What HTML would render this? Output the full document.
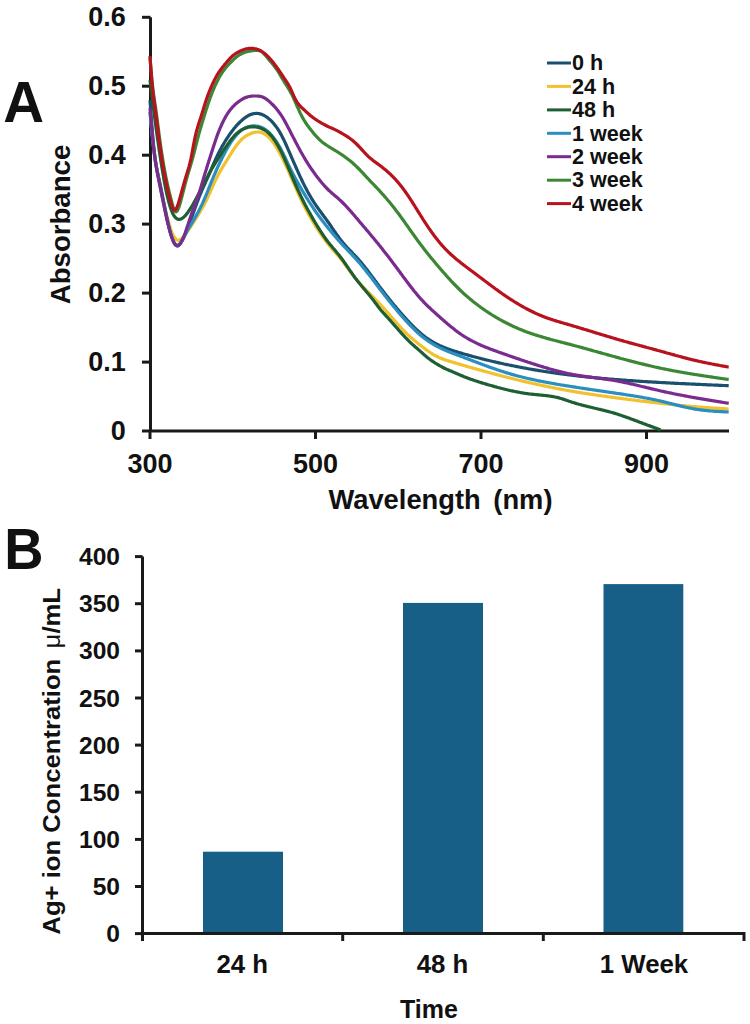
<!DOCTYPE html>
<html><head><meta charset="utf-8"><style>
html,body{margin:0;padding:0;background:#fff;width:750px;height:1024px;overflow:hidden}
svg{display:block}
#wrap{}
</style></head><body>
<div id="wrap"><svg width="750" height="1024" viewBox="0 0 750 1024">
<rect width="750" height="1024" fill="#fff"/>
<path d="M150.5,17.30000000000001 V431 H729" fill="none" stroke="#1a1a1a" stroke-width="3"/>
<line x1="142" y1="431.0" x2="150.5" y2="431.0" stroke="#1a1a1a" stroke-width="3"/>
<text x="125.7" y="439.9" text-anchor="end" style="font-family:'Liberation Sans',sans-serif;font-weight:bold;fill:#111;font-size:27px">0</text>
<line x1="142" y1="362.1" x2="150.5" y2="362.1" stroke="#1a1a1a" stroke-width="3"/>
<text x="125.7" y="370.9" text-anchor="end" style="font-family:'Liberation Sans',sans-serif;font-weight:bold;fill:#111;font-size:27px">0.1</text>
<line x1="142" y1="293.1" x2="150.5" y2="293.1" stroke="#1a1a1a" stroke-width="3"/>
<text x="125.7" y="302.0" text-anchor="end" style="font-family:'Liberation Sans',sans-serif;font-weight:bold;fill:#111;font-size:27px">0.2</text>
<line x1="142" y1="224.1" x2="150.5" y2="224.1" stroke="#1a1a1a" stroke-width="3"/>
<text x="125.7" y="233.0" text-anchor="end" style="font-family:'Liberation Sans',sans-serif;font-weight:bold;fill:#111;font-size:27px">0.3</text>
<line x1="142" y1="155.2" x2="150.5" y2="155.2" stroke="#1a1a1a" stroke-width="3"/>
<text x="125.7" y="164.1" text-anchor="end" style="font-family:'Liberation Sans',sans-serif;font-weight:bold;fill:#111;font-size:27px">0.4</text>
<line x1="142" y1="86.2" x2="150.5" y2="86.2" stroke="#1a1a1a" stroke-width="3"/>
<text x="125.7" y="95.2" text-anchor="end" style="font-family:'Liberation Sans',sans-serif;font-weight:bold;fill:#111;font-size:27px">0.5</text>
<line x1="142" y1="17.3" x2="150.5" y2="17.3" stroke="#1a1a1a" stroke-width="3"/>
<text x="125.7" y="26.2" text-anchor="end" style="font-family:'Liberation Sans',sans-serif;font-weight:bold;fill:#111;font-size:27px">0.6</text>
<line x1="150.0" y1="431" x2="150.0" y2="439" stroke="#1a1a1a" stroke-width="3"/>
<text x="150.0" y="473" text-anchor="middle" style="font-family:'Liberation Sans',sans-serif;font-weight:bold;fill:#111;font-size:27px">300</text>
<line x1="315.5" y1="431" x2="315.5" y2="439" stroke="#1a1a1a" stroke-width="3"/>
<text x="315.5" y="473" text-anchor="middle" style="font-family:'Liberation Sans',sans-serif;font-weight:bold;fill:#111;font-size:27px">500</text>
<line x1="481.0" y1="431" x2="481.0" y2="439" stroke="#1a1a1a" stroke-width="3"/>
<text x="481.0" y="473" text-anchor="middle" style="font-family:'Liberation Sans',sans-serif;font-weight:bold;fill:#111;font-size:27px">700</text>
<line x1="646.5" y1="431" x2="646.5" y2="439" stroke="#1a1a1a" stroke-width="3"/>
<text x="646.5" y="473" text-anchor="middle" style="font-family:'Liberation Sans',sans-serif;font-weight:bold;fill:#111;font-size:27px">900</text>
<text x="3.2" y="122" style="font-family:'Liberation Sans',sans-serif;font-weight:bold;fill:#111;font-size:56.5px">A</text>
<text transform="translate(69.5,224.5) rotate(-90)" text-anchor="middle" style="font-family:'Liberation Sans',sans-serif;font-weight:bold;fill:#111;font-size:27.6px">Absorbance</text>
<text x="328.5" y="508.5" style="font-family:'Liberation Sans',sans-serif;font-weight:bold;fill:#111;font-size:27.3px">Wavelength</text>
<text x="552.5" y="508.5" text-anchor="end" style="font-family:'Liberation Sans',sans-serif;font-weight:bold;fill:#111;font-size:27.3px">(nm)</text>
<path d="M150.0,112.1 L151.0,122.3 L152.0,132.1 L153.0,141.4 L154.0,149.7 L155.0,157.0 L156.0,163.3 L157.0,169.0 L158.0,174.2 L159.0,179.1 L160.0,184.1 L161.0,189.1 L162.0,194.0 L163.0,198.8 L164.0,203.5 L165.0,208.0 L166.0,212.3 L167.0,216.4 L168.0,220.2 L169.0,223.8 L170.0,227.1 L171.0,230.0 L172.0,232.6 L173.0,234.8 L174.0,236.7 L175.0,238.2 L176.0,239.3 L177.0,240.0 L178.0,240.3 L179.0,240.2 L180.0,239.8 L181.0,239.1 L182.0,238.2 L183.0,237.2 L184.0,236.0 L185.0,234.8 L186.0,233.5 L187.0,232.1 L188.0,230.7 L189.0,229.3 L190.0,227.8 L191.0,226.3 L192.0,224.7 L193.0,223.2 L194.0,221.6 L195.0,220.0 L196.0,218.4 L197.0,216.8 L198.0,215.2 L199.0,213.6 L200.0,211.9 L201.0,210.2 L202.0,208.5 L203.0,206.7 L204.0,204.9 L205.0,203.0 L206.0,201.0 L207.0,199.0 L208.0,196.9 L209.0,194.7 L210.0,192.5 L211.0,190.2 L212.0,188.0 L213.0,185.7 L214.0,183.5 L215.0,181.4 L216.0,179.2 L217.0,177.2 L218.0,175.3 L219.0,173.4 L220.0,171.6 L221.0,169.9 L222.0,168.2 L223.0,166.5 L224.0,164.9 L225.0,163.3 L226.0,161.6 L227.0,160.0 L228.0,158.4 L229.0,156.8 L230.0,155.2 L231.0,153.6 L232.0,152.0 L233.0,150.5 L234.0,148.9 L235.0,147.5 L236.0,146.1 L237.0,144.7 L238.0,143.4 L239.0,142.2 L240.0,141.1 L241.0,140.0 L242.0,139.0 L243.0,138.2 L244.0,137.4 L245.0,136.6 L246.0,136.0 L247.0,135.4 L248.0,134.8 L249.0,134.3 L250.0,133.9 L251.0,133.5 L252.0,133.1 L253.0,132.8 L254.0,132.5 L255.0,132.3 L256.0,132.1 L257.0,132.0 L258.0,132.0 L259.0,132.1 L260.0,132.2 L261.0,132.5 L262.0,132.8 L263.0,133.2 L264.0,133.7 L265.0,134.3 L266.0,134.9 L267.0,135.7 L268.0,136.5 L269.0,137.5 L270.0,138.5 L271.0,139.7 L272.0,140.9 L273.0,142.2 L274.0,143.6 L275.0,145.0 L276.0,146.6 L277.0,148.2 L278.0,149.9 L279.0,151.7 L280.0,153.5 L281.0,155.4 L282.0,157.4 L283.0,159.4 L284.0,161.5 L285.0,163.6 L286.0,165.8 L287.0,168.0 L288.0,170.2 L289.0,172.4 L290.0,174.7 L291.0,177.0 L292.0,179.3 L293.0,181.6 L294.0,183.9 L295.0,186.2 L296.0,188.4 L297.0,190.7 L298.0,192.9 L299.0,195.1 L300.0,197.3 L301.0,199.4 L302.0,201.5 L303.0,203.5 L304.0,205.5 L305.0,207.5 L306.0,209.4 L307.0,211.3 L308.0,213.1 L309.0,214.9 L310.0,216.7 L311.0,218.4 L312.0,220.2 L313.0,221.8 L314.0,223.5 L315.0,225.1 L316.0,226.8 L317.0,228.3 L318.0,229.9 L319.0,231.4 L320.0,232.9 L321.0,234.4 L322.0,235.8 L323.0,237.3 L324.0,238.6 L325.0,240.0 L326.0,241.3 L327.0,242.6 L328.0,243.9 L329.0,245.1 L330.0,246.3 L331.0,247.5 L332.0,248.7 L333.0,249.8 L334.0,251.0 L335.0,252.1 L336.0,253.3 L337.0,254.4 L338.0,255.6 L339.0,256.8 L340.0,258.0 L341.0,259.3 L342.0,260.5 L343.0,261.8 L344.0,263.1 L345.0,264.5 L346.0,265.8 L347.0,267.2 L348.0,268.5 L349.0,269.9 L350.0,271.2 L351.0,272.6 L352.0,273.9 L353.0,275.2 L354.0,276.5 L355.0,277.8 L356.0,279.0 L357.0,280.2 L358.0,281.4 L359.0,282.5 L360.0,283.6 L361.0,284.7 L362.0,285.8 L363.0,286.9 L364.0,287.9 L365.0,289.0 L366.0,290.0 L367.0,291.0 L368.0,292.0 L369.0,293.0 L370.0,294.0 L371.0,295.0 L372.0,296.0 L373.0,297.0 L374.0,298.0 L375.0,299.0 L376.0,300.1 L377.0,301.1 L378.0,302.1 L379.0,303.2 L380.0,304.2 L381.0,305.3 L382.0,306.4 L383.0,307.5 L384.0,308.5 L385.0,309.6 L386.0,310.8 L387.0,311.9 L388.0,313.0 L389.0,314.1 L390.0,315.3 L391.0,316.4 L392.0,317.6 L393.0,318.8 L394.0,319.9 L395.0,321.1 L396.0,322.2 L397.0,323.4 L398.0,324.5 L399.0,325.6 L400.0,326.7 L401.0,327.8 L402.0,328.9 L403.0,330.0 L404.0,331.0 L405.0,332.0 L406.0,333.0 L407.0,334.0 L408.0,334.9 L409.0,335.8 L410.0,336.7 L411.0,337.6 L412.0,338.5 L413.0,339.3 L414.0,340.2 L415.0,341.0 L416.0,341.8 L417.0,342.6 L418.0,343.4 L419.0,344.2 L420.0,345.0 L421.0,345.8 L422.0,346.6 L423.0,347.3 L424.0,348.1 L425.0,348.8 L426.0,349.6 L427.0,350.3 L428.0,351.0 L429.0,351.7 L430.0,352.4 L431.0,353.0 L432.0,353.7 L433.0,354.3 L434.0,354.9 L435.0,355.5 L436.0,356.0 L437.0,356.5 L438.0,357.0 L439.0,357.5 L440.0,357.9 L441.0,358.3 L442.0,358.7 L443.0,359.1 L444.0,359.5 L445.0,359.8 L446.0,360.1 L447.0,360.5 L448.0,360.8 L449.0,361.1 L450.0,361.4 L451.0,361.7 L452.0,362.0 L453.0,362.3 L454.0,362.6 L455.0,362.9 L456.0,363.2 L457.0,363.5 L458.0,363.8 L459.0,364.1 L460.0,364.4 L461.0,364.7 L462.0,364.9 L463.0,365.2 L464.0,365.5 L465.0,365.8 L466.0,366.1 L467.0,366.4 L468.0,366.7 L469.0,367.0 L470.0,367.2 L471.0,367.5 L472.0,367.8 L473.0,368.1 L474.0,368.4 L475.0,368.7 L476.0,368.9 L477.0,369.2 L478.0,369.5 L479.0,369.8 L480.0,370.1 L481.0,370.3 L482.0,370.6 L483.0,370.9 L484.0,371.2 L485.0,371.4 L486.0,371.7 L487.0,372.0 L488.0,372.3 L489.0,372.5 L490.0,372.8 L491.0,373.1 L492.0,373.3 L493.0,373.6 L494.0,373.9 L495.0,374.1 L496.0,374.4 L497.0,374.7 L498.0,374.9 L499.0,375.2 L500.0,375.4 L501.0,375.7 L502.0,376.0 L503.0,376.2 L504.0,376.5 L505.0,376.7 L506.0,377.0 L507.0,377.2 L508.0,377.5 L509.0,377.7 L510.0,378.0 L511.0,378.3 L512.0,378.5 L513.0,378.7 L514.0,379.0 L515.0,379.2 L516.0,379.5 L517.0,379.7 L518.0,380.0 L519.0,380.2 L520.0,380.5 L521.0,380.7 L522.0,380.9 L523.0,381.2 L524.0,381.4 L525.0,381.6 L526.0,381.9 L527.0,382.1 L528.0,382.3 L529.0,382.6 L530.0,382.8 L531.0,383.0 L532.0,383.2 L533.0,383.5 L534.0,383.7 L535.0,383.9 L536.0,384.1 L537.0,384.4 L538.0,384.6 L539.0,384.8 L540.0,385.0 L541.0,385.2 L542.0,385.4 L543.0,385.7 L544.0,385.9 L545.0,386.1 L546.0,386.3 L547.0,386.5 L548.0,386.7 L549.0,386.9 L550.0,387.1 L551.0,387.3 L552.0,387.5 L553.0,387.7 L554.0,387.9 L555.0,388.1 L556.0,388.3 L557.0,388.5 L558.0,388.7 L559.0,388.9 L560.0,389.1 L561.0,389.3 L562.0,389.5 L563.0,389.6 L564.0,389.8 L565.0,390.0 L566.0,390.2 L567.0,390.4 L568.0,390.5 L569.0,390.7 L570.0,390.9 L571.0,391.1 L572.0,391.2 L573.0,391.4 L574.0,391.6 L575.0,391.8 L576.0,391.9 L577.0,392.1 L578.0,392.3 L579.0,392.4 L580.0,392.6 L581.0,392.7 L582.0,392.9 L583.0,393.1 L584.0,393.2 L585.0,393.4 L586.0,393.5 L587.0,393.7 L588.0,393.8 L589.0,394.0 L590.0,394.1 L591.0,394.3 L592.0,394.4 L593.0,394.6 L594.0,394.7 L595.0,394.9 L596.0,395.0 L597.0,395.2 L598.0,395.3 L599.0,395.5 L600.0,395.6 L601.0,395.7 L602.0,395.9 L603.0,396.0 L604.0,396.2 L605.0,396.3 L606.0,396.4 L607.0,396.6 L608.0,396.7 L609.0,396.9 L610.0,397.0 L611.0,397.1 L612.0,397.3 L613.0,397.4 L614.0,397.5 L615.0,397.7 L616.0,397.8 L617.0,397.9 L618.0,398.1 L619.0,398.2 L620.0,398.3 L621.0,398.5 L622.0,398.6 L623.0,398.7 L624.0,398.8 L625.0,399.0 L626.0,399.1 L627.0,399.2 L628.0,399.4 L629.0,399.5 L630.0,399.6 L631.0,399.7 L632.0,399.9 L633.0,400.0 L634.0,400.1 L635.0,400.2 L636.0,400.4 L637.0,400.5 L638.0,400.6 L639.0,400.7 L640.0,400.9 L641.0,401.0 L642.0,401.1 L643.0,401.2 L644.0,401.3 L645.0,401.5 L646.0,401.6 L647.0,401.7 L648.0,401.8 L649.0,401.9 L650.0,402.1 L651.0,402.2 L652.0,402.3 L653.0,402.4 L654.0,402.5 L655.0,402.6 L656.0,402.8 L657.0,402.9 L658.0,403.0 L659.0,403.1 L660.0,403.2 L661.0,403.3 L662.0,403.4 L663.0,403.6 L664.0,403.7 L665.0,403.8 L666.0,403.9 L667.0,404.0 L668.0,404.1 L669.0,404.2 L670.0,404.3 L671.0,404.4 L672.0,404.5 L673.0,404.6 L674.0,404.7 L675.0,404.9 L676.0,405.0 L677.0,405.1 L678.0,405.2 L679.0,405.3 L680.0,405.4 L681.0,405.5 L682.0,405.6 L683.0,405.7 L684.0,405.7 L685.0,405.8 L686.0,405.9 L687.0,406.0 L688.0,406.1 L689.0,406.2 L690.0,406.3 L691.0,406.4 L692.0,406.5 L693.0,406.6 L694.0,406.6 L695.0,406.7 L696.0,406.8 L697.0,406.9 L698.0,407.0 L699.0,407.0 L700.0,407.1 L701.0,407.2 L702.0,407.3 L703.0,407.3 L704.0,407.4 L705.0,407.5 L706.0,407.6 L707.0,407.6 L708.0,407.7 L709.0,407.8 L710.0,407.8 L711.0,407.9 L712.0,408.0 L713.0,408.0 L714.0,408.1 L715.0,408.2 L716.0,408.2 L717.0,408.3 L718.0,408.3 L719.0,408.4 L720.0,408.5 L721.0,408.5 L722.0,408.6 L723.0,408.7 L724.0,408.7 L725.0,408.8 L726.0,408.8 L727.0,408.9 L728.0,409.0 L728.7,409.0" fill="none" stroke="#f2c12e" stroke-width="3.2" stroke-linejoin="round" stroke-linecap="butt"/>
<path d="M150.0,100.3 L151.0,113.9 L152.0,127.1 L153.0,139.1 L154.0,149.5 L155.0,157.9 L156.0,164.6 L157.0,170.0 L158.0,174.8 L159.0,179.3 L160.0,183.9 L161.0,188.7 L162.0,193.6 L163.0,198.6 L164.0,203.6 L165.0,208.6 L166.0,213.5 L167.0,218.3 L168.0,222.9 L169.0,227.2 L170.0,231.2 L171.0,234.7 L172.0,237.7 L173.0,240.2 L174.0,242.3 L175.0,243.8 L176.0,244.8 L177.0,245.2 L178.0,245.2 L179.0,244.7 L180.0,243.8 L181.0,242.5 L182.0,240.9 L183.0,239.1 L184.0,237.0 L185.0,234.8 L186.0,232.5 L187.0,230.0 L188.0,227.4 L189.0,224.8 L190.0,222.1 L191.0,219.3 L192.0,216.6 L193.0,213.8 L194.0,211.0 L195.0,208.2 L196.0,205.5 L197.0,202.8 L198.0,200.1 L199.0,197.5 L200.0,195.0 L201.0,192.6 L202.0,190.2 L203.0,187.9 L204.0,185.7 L205.0,183.5 L206.0,181.2 L207.0,179.0 L208.0,176.8 L209.0,174.5 L210.0,172.2 L211.0,169.8 L212.0,167.5 L213.0,165.2 L214.0,162.9 L215.0,160.7 L216.0,158.5 L217.0,156.4 L218.0,154.3 L219.0,152.3 L220.0,150.3 L221.0,148.5 L222.0,146.6 L223.0,144.9 L224.0,143.2 L225.0,141.5 L226.0,139.9 L227.0,138.3 L228.0,136.8 L229.0,135.3 L230.0,133.9 L231.0,132.5 L232.0,131.2 L233.0,129.9 L234.0,128.6 L235.0,127.4 L236.0,126.2 L237.0,125.1 L238.0,124.0 L239.0,123.0 L240.0,122.0 L241.0,121.1 L242.0,120.2 L243.0,119.3 L244.0,118.5 L245.0,117.7 L246.0,117.1 L247.0,116.4 L248.0,115.8 L249.0,115.3 L250.0,114.8 L251.0,114.4 L252.0,114.1 L253.0,113.8 L254.0,113.6 L255.0,113.5 L256.0,113.4 L257.0,113.4 L258.0,113.5 L259.0,113.6 L260.0,113.9 L261.0,114.1 L262.0,114.5 L263.0,114.9 L264.0,115.4 L265.0,116.0 L266.0,116.6 L267.0,117.3 L268.0,118.1 L269.0,118.9 L270.0,119.7 L271.0,120.7 L272.0,121.7 L273.0,122.8 L274.0,123.9 L275.0,125.2 L276.0,126.5 L277.0,127.9 L278.0,129.3 L279.0,130.9 L280.0,132.6 L281.0,134.4 L282.0,136.2 L283.0,138.2 L284.0,140.2 L285.0,142.4 L286.0,144.5 L287.0,146.8 L288.0,149.1 L289.0,151.4 L290.0,153.7 L291.0,156.0 L292.0,158.3 L293.0,160.6 L294.0,162.9 L295.0,165.2 L296.0,167.5 L297.0,169.7 L298.0,171.9 L299.0,174.1 L300.0,176.3 L301.0,178.4 L302.0,180.5 L303.0,182.6 L304.0,184.6 L305.0,186.6 L306.0,188.5 L307.0,190.4 L308.0,192.3 L309.0,194.1 L310.0,195.8 L311.0,197.5 L312.0,199.2 L313.0,200.8 L314.0,202.4 L315.0,203.9 L316.0,205.4 L317.0,206.8 L318.0,208.2 L319.0,209.6 L320.0,211.0 L321.0,212.3 L322.0,213.7 L323.0,215.0 L324.0,216.4 L325.0,217.7 L326.0,219.1 L327.0,220.5 L328.0,221.9 L329.0,223.3 L330.0,224.7 L331.0,226.2 L332.0,227.7 L333.0,229.1 L334.0,230.6 L335.0,232.0 L336.0,233.5 L337.0,234.9 L338.0,236.3 L339.0,237.7 L340.0,239.0 L341.0,240.3 L342.0,241.5 L343.0,242.7 L344.0,243.9 L345.0,245.0 L346.0,246.2 L347.0,247.3 L348.0,248.3 L349.0,249.4 L350.0,250.5 L351.0,251.5 L352.0,252.5 L353.0,253.6 L354.0,254.6 L355.0,255.7 L356.0,256.7 L357.0,257.8 L358.0,258.9 L359.0,260.0 L360.0,261.2 L361.0,262.3 L362.0,263.5 L363.0,264.8 L364.0,266.0 L365.0,267.3 L366.0,268.5 L367.0,269.8 L368.0,271.1 L369.0,272.4 L370.0,273.8 L371.0,275.1 L372.0,276.5 L373.0,277.8 L374.0,279.1 L375.0,280.5 L376.0,281.8 L377.0,283.2 L378.0,284.5 L379.0,285.9 L380.0,287.2 L381.0,288.5 L382.0,289.8 L383.0,291.1 L384.0,292.4 L385.0,293.7 L386.0,295.0 L387.0,296.2 L388.0,297.5 L389.0,298.8 L390.0,300.0 L391.0,301.2 L392.0,302.5 L393.0,303.7 L394.0,304.9 L395.0,306.1 L396.0,307.3 L397.0,308.5 L398.0,309.7 L399.0,310.8 L400.0,312.0 L401.0,313.2 L402.0,314.3 L403.0,315.4 L404.0,316.6 L405.0,317.7 L406.0,318.8 L407.0,319.9 L408.0,321.0 L409.0,322.0 L410.0,323.1 L411.0,324.1 L412.0,325.2 L413.0,326.2 L414.0,327.2 L415.0,328.1 L416.0,329.1 L417.0,330.0 L418.0,330.9 L419.0,331.8 L420.0,332.7 L421.0,333.6 L422.0,334.4 L423.0,335.2 L424.0,336.0 L425.0,336.8 L426.0,337.5 L427.0,338.2 L428.0,338.9 L429.0,339.6 L430.0,340.2 L431.0,340.8 L432.0,341.5 L433.0,342.0 L434.0,342.6 L435.0,343.2 L436.0,343.7 L437.0,344.2 L438.0,344.7 L439.0,345.2 L440.0,345.7 L441.0,346.1 L442.0,346.5 L443.0,347.0 L444.0,347.4 L445.0,347.8 L446.0,348.2 L447.0,348.6 L448.0,348.9 L449.0,349.3 L450.0,349.6 L451.0,350.0 L452.0,350.3 L453.0,350.6 L454.0,351.0 L455.0,351.3 L456.0,351.6 L457.0,351.9 L458.0,352.2 L459.0,352.5 L460.0,352.8 L461.0,353.1 L462.0,353.4 L463.0,353.7 L464.0,354.0 L465.0,354.3 L466.0,354.5 L467.0,354.8 L468.0,355.1 L469.0,355.4 L470.0,355.7 L471.0,355.9 L472.0,356.2 L473.0,356.5 L474.0,356.7 L475.0,357.0 L476.0,357.3 L477.0,357.5 L478.0,357.8 L479.0,358.0 L480.0,358.3 L481.0,358.6 L482.0,358.8 L483.0,359.1 L484.0,359.3 L485.0,359.6 L486.0,359.8 L487.0,360.1 L488.0,360.3 L489.0,360.5 L490.0,360.8 L491.0,361.0 L492.0,361.3 L493.0,361.5 L494.0,361.7 L495.0,361.9 L496.0,362.2 L497.0,362.4 L498.0,362.6 L499.0,362.9 L500.0,363.1 L501.0,363.3 L502.0,363.5 L503.0,363.7 L504.0,364.0 L505.0,364.2 L506.0,364.4 L507.0,364.6 L508.0,364.8 L509.0,365.0 L510.0,365.2 L511.0,365.4 L512.0,365.6 L513.0,365.8 L514.0,366.0 L515.0,366.2 L516.0,366.4 L517.0,366.6 L518.0,366.8 L519.0,367.0 L520.0,367.2 L521.0,367.4 L522.0,367.6 L523.0,367.8 L524.0,368.0 L525.0,368.1 L526.0,368.3 L527.0,368.5 L528.0,368.7 L529.0,368.9 L530.0,369.0 L531.0,369.2 L532.0,369.4 L533.0,369.6 L534.0,369.7 L535.0,369.9 L536.0,370.1 L537.0,370.2 L538.0,370.4 L539.0,370.6 L540.0,370.7 L541.0,370.9 L542.0,371.0 L543.0,371.2 L544.0,371.4 L545.0,371.5 L546.0,371.7 L547.0,371.8 L548.0,372.0 L549.0,372.1 L550.0,372.3 L551.0,372.4 L552.0,372.6 L553.0,372.7 L554.0,372.9 L555.0,373.0 L556.0,373.2 L557.0,373.3 L558.0,373.4 L559.0,373.6 L560.0,373.7 L561.0,373.8 L562.0,374.0 L563.0,374.1 L564.0,374.2 L565.0,374.4 L566.0,374.5 L567.0,374.6 L568.0,374.8 L569.0,374.9 L570.0,375.0 L571.0,375.1 L572.0,375.2 L573.0,375.4 L574.0,375.5 L575.0,375.6 L576.0,375.7 L577.0,375.8 L578.0,375.9 L579.0,376.1 L580.0,376.2 L581.0,376.3 L582.0,376.4 L583.0,376.5 L584.0,376.6 L585.0,376.7 L586.0,376.8 L587.0,376.9 L588.0,377.0 L589.0,377.1 L590.0,377.2 L591.0,377.3 L592.0,377.4 L593.0,377.5 L594.0,377.6 L595.0,377.7 L596.0,377.8 L597.0,377.9 L598.0,378.0 L599.0,378.1 L600.0,378.2 L601.0,378.3 L602.0,378.4 L603.0,378.5 L604.0,378.6 L605.0,378.6 L606.0,378.7 L607.0,378.8 L608.0,378.9 L609.0,379.0 L610.0,379.1 L611.0,379.2 L612.0,379.2 L613.0,379.3 L614.0,379.4 L615.0,379.5 L616.0,379.6 L617.0,379.6 L618.0,379.7 L619.0,379.8 L620.0,379.9 L621.0,379.9 L622.0,380.0 L623.0,380.1 L624.0,380.2 L625.0,380.2 L626.0,380.3 L627.0,380.4 L628.0,380.5 L629.0,380.5 L630.0,380.6 L631.0,380.7 L632.0,380.7 L633.0,380.8 L634.0,380.9 L635.0,380.9 L636.0,381.0 L637.0,381.1 L638.0,381.1 L639.0,381.2 L640.0,381.3 L641.0,381.3 L642.0,381.4 L643.0,381.5 L644.0,381.5 L645.0,381.6 L646.0,381.6 L647.0,381.7 L648.0,381.8 L649.0,381.8 L650.0,381.9 L651.0,381.9 L652.0,382.0 L653.0,382.1 L654.0,382.1 L655.0,382.2 L656.0,382.2 L657.0,382.3 L658.0,382.3 L659.0,382.4 L660.0,382.5 L661.0,382.5 L662.0,382.6 L663.0,382.6 L664.0,382.7 L665.0,382.7 L666.0,382.8 L667.0,382.8 L668.0,382.9 L669.0,382.9 L670.0,383.0 L671.0,383.1 L672.0,383.1 L673.0,383.2 L674.0,383.2 L675.0,383.3 L676.0,383.3 L677.0,383.4 L678.0,383.4 L679.0,383.5 L680.0,383.5 L681.0,383.6 L682.0,383.6 L683.0,383.7 L684.0,383.7 L685.0,383.7 L686.0,383.8 L687.0,383.8 L688.0,383.9 L689.0,383.9 L690.0,384.0 L691.0,384.0 L692.0,384.1 L693.0,384.1 L694.0,384.2 L695.0,384.2 L696.0,384.3 L697.0,384.3 L698.0,384.4 L699.0,384.4 L700.0,384.4 L701.0,384.5 L702.0,384.5 L703.0,384.6 L704.0,384.6 L705.0,384.7 L706.0,384.7 L707.0,384.8 L708.0,384.8 L709.0,384.8 L710.0,384.9 L711.0,384.9 L712.0,385.0 L713.0,385.0 L714.0,385.1 L715.0,385.1 L716.0,385.2 L717.0,385.2 L718.0,385.2 L719.0,385.3 L720.0,385.3 L721.0,385.4 L722.0,385.4 L723.0,385.5 L724.0,385.5 L725.0,385.5 L726.0,385.6 L727.0,385.6 L728.0,385.7 L728.7,385.7" fill="none" stroke="#1b4f6e" stroke-width="3.2" stroke-linejoin="round" stroke-linecap="butt"/>
<path d="M150.0,112.2 L151.0,122.8 L152.0,133.1 L153.0,142.7 L154.0,151.3 L155.0,158.7 L156.0,165.0 L157.0,170.7 L158.0,175.9 L159.0,181.0 L160.0,186.0 L161.0,191.0 L162.0,196.0 L163.0,200.9 L164.0,205.7 L165.0,210.5 L166.0,215.1 L167.0,219.6 L168.0,223.9 L169.0,227.9 L170.0,231.6 L171.0,235.0 L172.0,238.0 L173.0,240.7 L174.0,242.8 L175.0,244.4 L176.0,245.4 L177.0,245.9 L178.0,245.7 L179.0,245.0 L180.0,243.9 L181.0,242.5 L182.0,240.8 L183.0,238.9 L184.0,237.0 L185.0,235.0 L186.0,233.2 L187.0,231.3 L188.0,229.5 L189.0,227.8 L190.0,226.1 L191.0,224.4 L192.0,222.7 L193.0,221.1 L194.0,219.4 L195.0,217.7 L196.0,215.9 L197.0,214.1 L198.0,212.3 L199.0,210.4 L200.0,208.4 L201.0,206.4 L202.0,204.4 L203.0,202.2 L204.0,200.0 L205.0,197.7 L206.0,195.3 L207.0,192.9 L208.0,190.4 L209.0,187.9 L210.0,185.4 L211.0,182.9 L212.0,180.4 L213.0,178.0 L214.0,175.6 L215.0,173.3 L216.0,171.0 L217.0,168.7 L218.0,166.5 L219.0,164.4 L220.0,162.3 L221.0,160.2 L222.0,158.2 L223.0,156.2 L224.0,154.3 L225.0,152.4 L226.0,150.5 L227.0,148.8 L228.0,147.0 L229.0,145.4 L230.0,143.7 L231.0,142.2 L232.0,140.7 L233.0,139.3 L234.0,138.0 L235.0,136.7 L236.0,135.5 L237.0,134.4 L238.0,133.4 L239.0,132.4 L240.0,131.5 L241.0,130.7 L242.0,130.0 L243.0,129.3 L244.0,128.7 L245.0,128.1 L246.0,127.6 L247.0,127.2 L248.0,126.8 L249.0,126.5 L250.0,126.3 L251.0,126.1 L252.0,126.0 L253.0,125.9 L254.0,125.9 L255.0,125.9 L256.0,126.0 L257.0,126.1 L258.0,126.3 L259.0,126.6 L260.0,126.9 L261.0,127.3 L262.0,127.7 L263.0,128.2 L264.0,128.7 L265.0,129.3 L266.0,130.0 L267.0,130.8 L268.0,131.6 L269.0,132.5 L270.0,133.5 L271.0,134.6 L272.0,135.7 L273.0,136.9 L274.0,138.2 L275.0,139.6 L276.0,141.0 L277.0,142.6 L278.0,144.2 L279.0,145.9 L280.0,147.6 L281.0,149.4 L282.0,151.4 L283.0,153.3 L284.0,155.4 L285.0,157.4 L286.0,159.5 L287.0,161.6 L288.0,163.8 L289.0,165.9 L290.0,167.9 L291.0,170.0 L292.0,172.0 L293.0,173.9 L294.0,175.8 L295.0,177.7 L296.0,179.5 L297.0,181.4 L298.0,183.1 L299.0,184.9 L300.0,186.6 L301.0,188.3 L302.0,190.1 L303.0,191.8 L304.0,193.4 L305.0,195.1 L306.0,196.8 L307.0,198.4 L308.0,200.0 L309.0,201.6 L310.0,203.2 L311.0,204.7 L312.0,206.2 L313.0,207.7 L314.0,209.2 L315.0,210.7 L316.0,212.1 L317.0,213.5 L318.0,214.9 L319.0,216.3 L320.0,217.6 L321.0,218.9 L322.0,220.3 L323.0,221.6 L324.0,222.8 L325.0,224.1 L326.0,225.4 L327.0,226.6 L328.0,227.9 L329.0,229.1 L330.0,230.3 L331.0,231.6 L332.0,232.8 L333.0,234.0 L334.0,235.1 L335.0,236.3 L336.0,237.5 L337.0,238.6 L338.0,239.8 L339.0,240.9 L340.0,242.0 L341.0,243.1 L342.0,244.2 L343.0,245.3 L344.0,246.3 L345.0,247.4 L346.0,248.4 L347.0,249.5 L348.0,250.5 L349.0,251.6 L350.0,252.6 L351.0,253.7 L352.0,254.7 L353.0,255.8 L354.0,256.9 L355.0,258.0 L356.0,259.1 L357.0,260.2 L358.0,261.3 L359.0,262.4 L360.0,263.6 L361.0,264.8 L362.0,266.0 L363.0,267.2 L364.0,268.4 L365.0,269.6 L366.0,270.9 L367.0,272.2 L368.0,273.5 L369.0,274.7 L370.0,276.0 L371.0,277.3 L372.0,278.6 L373.0,280.0 L374.0,281.3 L375.0,282.6 L376.0,283.9 L377.0,285.2 L378.0,286.6 L379.0,287.9 L380.0,289.2 L381.0,290.5 L382.0,291.8 L383.0,293.1 L384.0,294.4 L385.0,295.7 L386.0,296.9 L387.0,298.2 L388.0,299.5 L389.0,300.7 L390.0,302.0 L391.0,303.2 L392.0,304.5 L393.0,305.7 L394.0,306.9 L395.0,308.1 L396.0,309.3 L397.0,310.5 L398.0,311.7 L399.0,312.9 L400.0,314.1 L401.0,315.2 L402.0,316.4 L403.0,317.5 L404.0,318.6 L405.0,319.8 L406.0,320.9 L407.0,321.9 L408.0,323.0 L409.0,324.1 L410.0,325.1 L411.0,326.2 L412.0,327.2 L413.0,328.2 L414.0,329.2 L415.0,330.2 L416.0,331.1 L417.0,332.0 L418.0,333.0 L419.0,333.8 L420.0,334.7 L421.0,335.6 L422.0,336.4 L423.0,337.2 L424.0,338.0 L425.0,338.8 L426.0,339.5 L427.0,340.2 L428.0,340.9 L429.0,341.6 L430.0,342.2 L431.0,342.9 L432.0,343.5 L433.0,344.1 L434.0,344.7 L435.0,345.3 L436.0,345.8 L437.0,346.3 L438.0,346.9 L439.0,347.4 L440.0,347.9 L441.0,348.3 L442.0,348.8 L443.0,349.3 L444.0,349.7 L445.0,350.1 L446.0,350.6 L447.0,351.0 L448.0,351.4 L449.0,351.8 L450.0,352.2 L451.0,352.6 L452.0,353.0 L453.0,353.4 L454.0,353.8 L455.0,354.1 L456.0,354.5 L457.0,354.9 L458.0,355.3 L459.0,355.6 L460.0,356.0 L461.0,356.4 L462.0,356.7 L463.0,357.1 L464.0,357.5 L465.0,357.9 L466.0,358.3 L467.0,358.6 L468.0,359.0 L469.0,359.4 L470.0,359.8 L471.0,360.1 L472.0,360.5 L473.0,360.9 L474.0,361.3 L475.0,361.7 L476.0,362.0 L477.0,362.4 L478.0,362.8 L479.0,363.2 L480.0,363.5 L481.0,363.9 L482.0,364.3 L483.0,364.7 L484.0,365.0 L485.0,365.4 L486.0,365.8 L487.0,366.1 L488.0,366.5 L489.0,366.9 L490.0,367.2 L491.0,367.6 L492.0,367.9 L493.0,368.3 L494.0,368.6 L495.0,369.0 L496.0,369.3 L497.0,369.7 L498.0,370.0 L499.0,370.3 L500.0,370.7 L501.0,371.0 L502.0,371.3 L503.0,371.6 L504.0,372.0 L505.0,372.3 L506.0,372.6 L507.0,372.9 L508.0,373.2 L509.0,373.5 L510.0,373.8 L511.0,374.1 L512.0,374.4 L513.0,374.7 L514.0,374.9 L515.0,375.2 L516.0,375.5 L517.0,375.8 L518.0,376.0 L519.0,376.3 L520.0,376.5 L521.0,376.8 L522.0,377.0 L523.0,377.3 L524.0,377.5 L525.0,377.8 L526.0,378.0 L527.0,378.3 L528.0,378.5 L529.0,378.7 L530.0,378.9 L531.0,379.2 L532.0,379.4 L533.0,379.6 L534.0,379.8 L535.0,380.0 L536.0,380.2 L537.0,380.5 L538.0,380.7 L539.0,380.9 L540.0,381.1 L541.0,381.3 L542.0,381.5 L543.0,381.7 L544.0,381.8 L545.0,382.0 L546.0,382.2 L547.0,382.4 L548.0,382.6 L549.0,382.8 L550.0,383.0 L551.0,383.1 L552.0,383.3 L553.0,383.5 L554.0,383.7 L555.0,383.8 L556.0,384.0 L557.0,384.2 L558.0,384.4 L559.0,384.5 L560.0,384.7 L561.0,384.9 L562.0,385.0 L563.0,385.2 L564.0,385.3 L565.0,385.5 L566.0,385.7 L567.0,385.8 L568.0,386.0 L569.0,386.1 L570.0,386.3 L571.0,386.5 L572.0,386.6 L573.0,386.8 L574.0,386.9 L575.0,387.1 L576.0,387.2 L577.0,387.4 L578.0,387.5 L579.0,387.7 L580.0,387.9 L581.0,388.0 L582.0,388.2 L583.0,388.3 L584.0,388.5 L585.0,388.6 L586.0,388.8 L587.0,388.9 L588.0,389.1 L589.0,389.2 L590.0,389.4 L591.0,389.5 L592.0,389.7 L593.0,389.8 L594.0,390.0 L595.0,390.1 L596.0,390.3 L597.0,390.4 L598.0,390.6 L599.0,390.7 L600.0,390.8 L601.0,391.0 L602.0,391.1 L603.0,391.3 L604.0,391.4 L605.0,391.6 L606.0,391.7 L607.0,391.9 L608.0,392.0 L609.0,392.2 L610.0,392.3 L611.0,392.5 L612.0,392.6 L613.0,392.8 L614.0,392.9 L615.0,393.1 L616.0,393.2 L617.0,393.4 L618.0,393.5 L619.0,393.6 L620.0,393.8 L621.0,393.9 L622.0,394.1 L623.0,394.2 L624.0,394.4 L625.0,394.5 L626.0,394.7 L627.0,394.9 L628.0,395.0 L629.0,395.2 L630.0,395.3 L631.0,395.5 L632.0,395.6 L633.0,395.8 L634.0,396.0 L635.0,396.1 L636.0,396.3 L637.0,396.5 L638.0,396.6 L639.0,396.8 L640.0,397.0 L641.0,397.1 L642.0,397.3 L643.0,397.5 L644.0,397.7 L645.0,397.9 L646.0,398.0 L647.0,398.2 L648.0,398.4 L649.0,398.6 L650.0,398.8 L651.0,399.0 L652.0,399.2 L653.0,399.4 L654.0,399.6 L655.0,399.8 L656.0,400.0 L657.0,400.3 L658.0,400.5 L659.0,400.7 L660.0,400.9 L661.0,401.2 L662.0,401.4 L663.0,401.6 L664.0,401.9 L665.0,402.1 L666.0,402.4 L667.0,402.6 L668.0,402.9 L669.0,403.1 L670.0,403.4 L671.0,403.6 L672.0,403.9 L673.0,404.1 L674.0,404.4 L675.0,404.6 L676.0,404.9 L677.0,405.1 L678.0,405.4 L679.0,405.6 L680.0,405.9 L681.0,406.1 L682.0,406.4 L683.0,406.6 L684.0,406.8 L685.0,407.1 L686.0,407.3 L687.0,407.5 L688.0,407.7 L689.0,407.9 L690.0,408.1 L691.0,408.3 L692.0,408.5 L693.0,408.7 L694.0,408.9 L695.0,409.1 L696.0,409.2 L697.0,409.4 L698.0,409.5 L699.0,409.7 L700.0,409.8 L701.0,409.9 L702.0,410.1 L703.0,410.2 L704.0,410.3 L705.0,410.4 L706.0,410.5 L707.0,410.6 L708.0,410.7 L709.0,410.8 L710.0,410.9 L711.0,411.0 L712.0,411.0 L713.0,411.1 L714.0,411.2 L715.0,411.3 L716.0,411.3 L717.0,411.4 L718.0,411.5 L719.0,411.5 L720.0,411.6 L721.0,411.6 L722.0,411.7 L723.0,411.7 L724.0,411.8 L725.0,411.8 L726.0,411.9 L727.0,411.9 L728.0,412.0 L728.7,412.0" fill="none" stroke="#2a8fc0" stroke-width="3.2" stroke-linejoin="round" stroke-linecap="butt"/>
<path d="M150.0,80.0 L151.0,88.2 L152.0,96.3 L153.0,104.4 L154.0,112.3 L155.0,120.0 L156.0,127.5 L157.0,134.7 L158.0,141.8 L159.0,148.7 L160.0,155.3 L161.0,161.8 L162.0,168.1 L163.0,174.1 L164.0,179.8 L165.0,185.1 L166.0,190.1 L167.0,194.8 L168.0,199.0 L169.0,202.8 L170.0,206.2 L171.0,209.2 L172.0,211.8 L173.0,214.0 L174.0,215.7 L175.0,217.1 L176.0,218.1 L177.0,218.8 L178.0,219.3 L179.0,219.4 L180.0,219.3 L181.0,219.0 L182.0,218.5 L183.0,217.8 L184.0,216.9 L185.0,215.9 L186.0,214.8 L187.0,213.5 L188.0,212.2 L189.0,210.7 L190.0,209.2 L191.0,207.6 L192.0,206.0 L193.0,204.3 L194.0,202.5 L195.0,200.7 L196.0,198.9 L197.0,197.0 L198.0,195.1 L199.0,193.2 L200.0,191.2 L201.0,189.2 L202.0,187.3 L203.0,185.3 L204.0,183.3 L205.0,181.4 L206.0,179.5 L207.0,177.5 L208.0,175.7 L209.0,173.8 L210.0,172.0 L211.0,170.2 L212.0,168.5 L213.0,166.8 L214.0,165.2 L215.0,163.6 L216.0,162.0 L217.0,160.4 L218.0,158.8 L219.0,157.3 L220.0,155.8 L221.0,154.3 L222.0,152.7 L223.0,151.2 L224.0,149.7 L225.0,148.2 L226.0,146.8 L227.0,145.3 L228.0,143.9 L229.0,142.5 L230.0,141.1 L231.0,139.8 L232.0,138.6 L233.0,137.4 L234.0,136.2 L235.0,135.2 L236.0,134.2 L237.0,133.2 L238.0,132.4 L239.0,131.6 L240.0,130.9 L241.0,130.2 L242.0,129.6 L243.0,129.1 L244.0,128.6 L245.0,128.2 L246.0,127.9 L247.0,127.6 L248.0,127.3 L249.0,127.1 L250.0,127.0 L251.0,126.8 L252.0,126.8 L253.0,126.8 L254.0,126.8 L255.0,126.9 L256.0,127.0 L257.0,127.2 L258.0,127.4 L259.0,127.6 L260.0,127.9 L261.0,128.3 L262.0,128.7 L263.0,129.2 L264.0,129.7 L265.0,130.3 L266.0,131.0 L267.0,131.7 L268.0,132.6 L269.0,133.5 L270.0,134.5 L271.0,135.6 L272.0,136.8 L273.0,138.1 L274.0,139.5 L275.0,140.9 L276.0,142.4 L277.0,144.1 L278.0,145.8 L279.0,147.6 L280.0,149.4 L281.0,151.4 L282.0,153.4 L283.0,155.6 L284.0,157.7 L285.0,160.0 L286.0,162.3 L287.0,164.6 L288.0,166.9 L289.0,169.3 L290.0,171.6 L291.0,174.0 L292.0,176.3 L293.0,178.7 L294.0,181.0 L295.0,183.3 L296.0,185.6 L297.0,187.8 L298.0,190.0 L299.0,192.2 L300.0,194.3 L301.0,196.4 L302.0,198.5 L303.0,200.5 L304.0,202.5 L305.0,204.4 L306.0,206.3 L307.0,208.2 L308.0,210.0 L309.0,211.8 L310.0,213.6 L311.0,215.4 L312.0,217.1 L313.0,218.9 L314.0,220.6 L315.0,222.3 L316.0,223.9 L317.0,225.6 L318.0,227.2 L319.0,228.8 L320.0,230.4 L321.0,231.9 L322.0,233.5 L323.0,234.9 L324.0,236.4 L325.0,237.8 L326.0,239.2 L327.0,240.6 L328.0,241.9 L329.0,243.1 L330.0,244.4 L331.0,245.6 L332.0,246.8 L333.0,248.0 L334.0,249.1 L335.0,250.3 L336.0,251.5 L337.0,252.7 L338.0,253.9 L339.0,255.1 L340.0,256.4 L341.0,257.7 L342.0,259.1 L343.0,260.4 L344.0,261.8 L345.0,263.3 L346.0,264.7 L347.0,266.2 L348.0,267.6 L349.0,269.1 L350.0,270.6 L351.0,272.0 L352.0,273.4 L353.0,274.9 L354.0,276.3 L355.0,277.7 L356.0,279.0 L357.0,280.3 L358.0,281.6 L359.0,282.8 L360.0,284.1 L361.0,285.3 L362.0,286.5 L363.0,287.7 L364.0,288.8 L365.0,290.0 L366.0,291.2 L367.0,292.4 L368.0,293.6 L369.0,294.8 L370.0,296.0 L371.0,297.2 L372.0,298.5 L373.0,299.8 L374.0,301.1 L375.0,302.5 L376.0,303.8 L377.0,305.1 L378.0,306.5 L379.0,307.7 L380.0,309.0 L381.0,310.2 L382.0,311.4 L383.0,312.5 L384.0,313.6 L385.0,314.7 L386.0,315.8 L387.0,316.9 L388.0,318.0 L389.0,319.1 L390.0,320.2 L391.0,321.3 L392.0,322.5 L393.0,323.6 L394.0,324.7 L395.0,325.9 L396.0,327.0 L397.0,328.1 L398.0,329.3 L399.0,330.4 L400.0,331.6 L401.0,332.7 L402.0,333.8 L403.0,334.9 L404.0,336.0 L405.0,337.1 L406.0,338.1 L407.0,339.1 L408.0,340.2 L409.0,341.2 L410.0,342.1 L411.0,343.1 L412.0,344.0 L413.0,344.9 L414.0,345.8 L415.0,346.7 L416.0,347.5 L417.0,348.4 L418.0,349.3 L419.0,350.1 L420.0,351.0 L421.0,351.9 L422.0,352.8 L423.0,353.7 L424.0,354.6 L425.0,355.5 L426.0,356.3 L427.0,357.2 L428.0,358.0 L429.0,358.8 L430.0,359.5 L431.0,360.2 L432.0,360.9 L433.0,361.6 L434.0,362.2 L435.0,362.9 L436.0,363.5 L437.0,364.1 L438.0,364.7 L439.0,365.3 L440.0,365.9 L441.0,366.4 L442.0,367.0 L443.0,367.5 L444.0,368.0 L445.0,368.5 L446.0,368.9 L447.0,369.4 L448.0,369.8 L449.0,370.2 L450.0,370.7 L451.0,371.1 L452.0,371.5 L453.0,371.9 L454.0,372.4 L455.0,372.8 L456.0,373.3 L457.0,373.7 L458.0,374.1 L459.0,374.6 L460.0,375.0 L461.0,375.4 L462.0,375.8 L463.0,376.2 L464.0,376.7 L465.0,377.0 L466.0,377.4 L467.0,377.8 L468.0,378.2 L469.0,378.6 L470.0,378.9 L471.0,379.3 L472.0,379.6 L473.0,380.0 L474.0,380.3 L475.0,380.7 L476.0,381.0 L477.0,381.3 L478.0,381.6 L479.0,382.0 L480.0,382.3 L481.0,382.6 L482.0,382.9 L483.0,383.2 L484.0,383.5 L485.0,383.8 L486.0,384.1 L487.0,384.4 L488.0,384.7 L489.0,385.0 L490.0,385.3 L491.0,385.5 L492.0,385.8 L493.0,386.1 L494.0,386.4 L495.0,386.7 L496.0,386.9 L497.0,387.2 L498.0,387.5 L499.0,387.7 L500.0,388.0 L501.0,388.3 L502.0,388.5 L503.0,388.8 L504.0,389.0 L505.0,389.3 L506.0,389.5 L507.0,389.8 L508.0,390.0 L509.0,390.2 L510.0,390.5 L511.0,390.7 L512.0,390.9 L513.0,391.1 L514.0,391.3 L515.0,391.5 L516.0,391.7 L517.0,391.9 L518.0,392.1 L519.0,392.3 L520.0,392.5 L521.0,392.7 L522.0,392.8 L523.0,393.0 L524.0,393.2 L525.0,393.3 L526.0,393.5 L527.0,393.6 L528.0,393.7 L529.0,393.9 L530.0,394.0 L531.0,394.1 L532.0,394.2 L533.0,394.3 L534.0,394.4 L535.0,394.5 L536.0,394.6 L537.0,394.7 L538.0,394.8 L539.0,394.9 L540.0,395.0 L541.0,395.1 L542.0,395.2 L543.0,395.3 L544.0,395.4 L545.0,395.5 L546.0,395.6 L547.0,395.7 L548.0,395.8 L549.0,396.0 L550.0,396.1 L551.0,396.3 L552.0,396.4 L553.0,396.6 L554.0,396.8 L555.0,397.0 L556.0,397.2 L557.0,397.4 L558.0,397.6 L559.0,397.9 L560.0,398.2 L561.0,398.5 L562.0,398.8 L563.0,399.1 L564.0,399.4 L565.0,399.8 L566.0,400.1 L567.0,400.5 L568.0,400.8 L569.0,401.2 L570.0,401.5 L571.0,401.8 L572.0,402.2 L573.0,402.5 L574.0,402.8 L575.0,403.1 L576.0,403.4 L577.0,403.7 L578.0,404.0 L579.0,404.3 L580.0,404.5 L581.0,404.8 L582.0,405.1 L583.0,405.3 L584.0,405.6 L585.0,405.8 L586.0,406.1 L587.0,406.3 L588.0,406.6 L589.0,406.8 L590.0,407.1 L591.0,407.3 L592.0,407.5 L593.0,407.8 L594.0,408.0 L595.0,408.3 L596.0,408.5 L597.0,408.7 L598.0,409.0 L599.0,409.2 L600.0,409.4 L601.0,409.7 L602.0,409.9 L603.0,410.2 L604.0,410.4 L605.0,410.7 L606.0,410.9 L607.0,411.2 L608.0,411.4 L609.0,411.7 L610.0,412.0 L611.0,412.3 L612.0,412.5 L613.0,412.8 L614.0,413.1 L615.0,413.4 L616.0,413.7 L617.0,414.0 L618.0,414.3 L619.0,414.7 L620.0,415.0 L621.0,415.3 L622.0,415.7 L623.0,416.0 L624.0,416.4 L625.0,416.7 L626.0,417.1 L627.0,417.4 L628.0,417.8 L629.0,418.1 L630.0,418.5 L631.0,418.9 L632.0,419.3 L633.0,419.6 L634.0,420.0 L635.0,420.4 L636.0,420.7 L637.0,421.1 L638.0,421.5 L639.0,421.9 L640.0,422.3 L641.0,422.6 L642.0,423.0 L643.0,423.4 L644.0,423.8 L645.0,424.1 L646.0,424.5 L647.0,424.9 L648.0,425.3 L649.0,425.6 L650.0,426.0 L651.0,426.4 L652.0,426.7 L653.0,427.1 L654.0,427.5 L655.0,427.9 L656.0,428.2 L657.0,428.6 L658.0,429.0 L659.0,429.4 L660.0,429.7 L660.7,430.0" fill="none" stroke="#1e5e33" stroke-width="3.2" stroke-linejoin="round" stroke-linecap="butt"/>
<path d="M150.0,108.2 L151.0,120.1 L152.0,131.5 L153.0,142.1 L154.0,151.3 L155.0,159.0 L156.0,165.5 L157.0,171.0 L158.0,176.1 L159.0,181.0 L160.0,185.9 L161.0,190.9 L162.0,195.9 L163.0,200.8 L164.0,205.7 L165.0,210.5 L166.0,215.2 L167.0,219.6 L168.0,223.9 L169.0,227.9 L170.0,231.6 L171.0,235.0 L172.0,238.0 L173.0,240.6 L174.0,242.7 L175.0,244.4 L176.0,245.4 L177.0,245.9 L178.0,245.8 L179.0,245.2 L180.0,244.1 L181.0,242.5 L182.0,240.6 L183.0,238.4 L184.0,236.0 L185.0,233.3 L186.0,230.4 L187.0,227.5 L188.0,224.5 L189.0,221.5 L190.0,218.4 L191.0,215.5 L192.0,212.6 L193.0,209.9 L194.0,207.3 L195.0,204.7 L196.0,202.1 L197.0,199.4 L198.0,196.5 L199.0,193.5 L200.0,190.3 L201.0,187.0 L202.0,183.5 L203.0,180.1 L204.0,176.7 L205.0,173.4 L206.0,170.2 L207.0,167.0 L208.0,163.8 L209.0,160.6 L210.0,157.5 L211.0,154.3 L212.0,151.2 L213.0,148.0 L214.0,144.9 L215.0,141.9 L216.0,138.9 L217.0,136.1 L218.0,133.4 L219.0,130.8 L220.0,128.4 L221.0,126.1 L222.0,123.8 L223.0,121.7 L224.0,119.8 L225.0,117.9 L226.0,116.1 L227.0,114.5 L228.0,112.9 L229.0,111.5 L230.0,110.1 L231.0,108.9 L232.0,107.7 L233.0,106.6 L234.0,105.6 L235.0,104.6 L236.0,103.8 L237.0,102.9 L238.0,102.1 L239.0,101.4 L240.0,100.7 L241.0,100.0 L242.0,99.4 L243.0,98.8 L244.0,98.3 L245.0,97.8 L246.0,97.4 L247.0,97.1 L248.0,96.8 L249.0,96.5 L250.0,96.4 L251.0,96.2 L252.0,96.1 L253.0,96.0 L254.0,96.0 L255.0,96.0 L256.0,96.0 L257.0,96.0 L258.0,96.1 L259.0,96.2 L260.0,96.3 L261.0,96.5 L262.0,96.8 L263.0,97.2 L264.0,97.7 L265.0,98.2 L266.0,98.9 L267.0,99.6 L268.0,100.4 L269.0,101.3 L270.0,102.1 L271.0,103.1 L272.0,104.0 L273.0,105.0 L274.0,106.0 L275.0,107.1 L276.0,108.3 L277.0,109.5 L278.0,110.7 L279.0,112.1 L280.0,113.5 L281.0,114.9 L282.0,116.5 L283.0,118.1 L284.0,119.8 L285.0,121.6 L286.0,123.4 L287.0,125.3 L288.0,127.2 L289.0,129.1 L290.0,131.0 L291.0,133.0 L292.0,134.9 L293.0,136.9 L294.0,138.8 L295.0,140.8 L296.0,142.7 L297.0,144.6 L298.0,146.5 L299.0,148.3 L300.0,150.2 L301.0,152.0 L302.0,153.7 L303.0,155.5 L304.0,157.2 L305.0,158.9 L306.0,160.6 L307.0,162.2 L308.0,163.8 L309.0,165.3 L310.0,166.8 L311.0,168.3 L312.0,169.8 L313.0,171.2 L314.0,172.6 L315.0,174.0 L316.0,175.4 L317.0,176.7 L318.0,178.0 L319.0,179.3 L320.0,180.5 L321.0,181.8 L322.0,183.0 L323.0,184.1 L324.0,185.3 L325.0,186.4 L326.0,187.5 L327.0,188.5 L328.0,189.5 L329.0,190.5 L330.0,191.4 L331.0,192.3 L332.0,193.2 L333.0,194.0 L334.0,194.9 L335.0,195.7 L336.0,196.6 L337.0,197.4 L338.0,198.3 L339.0,199.2 L340.0,200.1 L341.0,201.0 L342.0,202.0 L343.0,203.0 L344.0,204.0 L345.0,205.0 L346.0,206.1 L347.0,207.2 L348.0,208.3 L349.0,209.4 L350.0,210.5 L351.0,211.6 L352.0,212.8 L353.0,213.9 L354.0,215.1 L355.0,216.3 L356.0,217.5 L357.0,218.6 L358.0,219.8 L359.0,221.0 L360.0,222.2 L361.0,223.4 L362.0,224.5 L363.0,225.7 L364.0,226.9 L365.0,228.1 L366.0,229.3 L367.0,230.4 L368.0,231.6 L369.0,232.8 L370.0,234.0 L371.0,235.2 L372.0,236.4 L373.0,237.6 L374.0,238.8 L375.0,240.0 L376.0,241.2 L377.0,242.4 L378.0,243.6 L379.0,244.9 L380.0,246.1 L381.0,247.4 L382.0,248.6 L383.0,249.9 L384.0,251.2 L385.0,252.4 L386.0,253.7 L387.0,255.0 L388.0,256.3 L389.0,257.6 L390.0,258.9 L391.0,260.2 L392.0,261.6 L393.0,262.9 L394.0,264.2 L395.0,265.6 L396.0,266.9 L397.0,268.2 L398.0,269.6 L399.0,270.9 L400.0,272.3 L401.0,273.7 L402.0,275.0 L403.0,276.4 L404.0,277.7 L405.0,279.1 L406.0,280.4 L407.0,281.8 L408.0,283.1 L409.0,284.4 L410.0,285.7 L411.0,287.0 L412.0,288.3 L413.0,289.6 L414.0,290.9 L415.0,292.1 L416.0,293.3 L417.0,294.5 L418.0,295.7 L419.0,296.8 L420.0,298.0 L421.0,299.1 L422.0,300.2 L423.0,301.2 L424.0,302.3 L425.0,303.3 L426.0,304.3 L427.0,305.3 L428.0,306.3 L429.0,307.3 L430.0,308.2 L431.0,309.2 L432.0,310.1 L433.0,311.0 L434.0,311.9 L435.0,312.8 L436.0,313.7 L437.0,314.6 L438.0,315.5 L439.0,316.4 L440.0,317.3 L441.0,318.2 L442.0,319.1 L443.0,319.9 L444.0,320.8 L445.0,321.7 L446.0,322.5 L447.0,323.4 L448.0,324.2 L449.0,325.1 L450.0,325.9 L451.0,326.7 L452.0,327.5 L453.0,328.3 L454.0,329.1 L455.0,329.9 L456.0,330.7 L457.0,331.4 L458.0,332.2 L459.0,332.9 L460.0,333.6 L461.0,334.3 L462.0,335.0 L463.0,335.6 L464.0,336.3 L465.0,336.9 L466.0,337.5 L467.0,338.1 L468.0,338.7 L469.0,339.3 L470.0,339.8 L471.0,340.4 L472.0,340.9 L473.0,341.4 L474.0,341.9 L475.0,342.4 L476.0,342.9 L477.0,343.4 L478.0,343.9 L479.0,344.3 L480.0,344.8 L481.0,345.2 L482.0,345.7 L483.0,346.1 L484.0,346.5 L485.0,346.9 L486.0,347.3 L487.0,347.7 L488.0,348.1 L489.0,348.5 L490.0,348.9 L491.0,349.3 L492.0,349.6 L493.0,350.0 L494.0,350.4 L495.0,350.7 L496.0,351.1 L497.0,351.5 L498.0,351.8 L499.0,352.2 L500.0,352.5 L501.0,352.9 L502.0,353.2 L503.0,353.6 L504.0,353.9 L505.0,354.3 L506.0,354.6 L507.0,355.0 L508.0,355.3 L509.0,355.7 L510.0,356.0 L511.0,356.4 L512.0,356.7 L513.0,357.1 L514.0,357.4 L515.0,357.8 L516.0,358.1 L517.0,358.5 L518.0,358.8 L519.0,359.1 L520.0,359.5 L521.0,359.8 L522.0,360.2 L523.0,360.5 L524.0,360.8 L525.0,361.2 L526.0,361.5 L527.0,361.8 L528.0,362.2 L529.0,362.5 L530.0,362.8 L531.0,363.1 L532.0,363.5 L533.0,363.8 L534.0,364.1 L535.0,364.4 L536.0,364.7 L537.0,365.0 L538.0,365.4 L539.0,365.7 L540.0,366.0 L541.0,366.3 L542.0,366.6 L543.0,366.9 L544.0,367.2 L545.0,367.5 L546.0,367.8 L547.0,368.1 L548.0,368.4 L549.0,368.7 L550.0,369.0 L551.0,369.2 L552.0,369.5 L553.0,369.8 L554.0,370.1 L555.0,370.3 L556.0,370.6 L557.0,370.9 L558.0,371.1 L559.0,371.4 L560.0,371.6 L561.0,371.9 L562.0,372.1 L563.0,372.4 L564.0,372.6 L565.0,372.8 L566.0,373.1 L567.0,373.3 L568.0,373.5 L569.0,373.7 L570.0,373.9 L571.0,374.1 L572.0,374.3 L573.0,374.5 L574.0,374.7 L575.0,374.8 L576.0,375.0 L577.0,375.2 L578.0,375.3 L579.0,375.5 L580.0,375.7 L581.0,375.8 L582.0,376.0 L583.0,376.1 L584.0,376.3 L585.0,376.4 L586.0,376.6 L587.0,376.7 L588.0,376.8 L589.0,377.0 L590.0,377.1 L591.0,377.2 L592.0,377.4 L593.0,377.5 L594.0,377.6 L595.0,377.8 L596.0,377.9 L597.0,378.0 L598.0,378.2 L599.0,378.3 L600.0,378.4 L601.0,378.5 L602.0,378.7 L603.0,378.8 L604.0,379.0 L605.0,379.1 L606.0,379.2 L607.0,379.4 L608.0,379.5 L609.0,379.7 L610.0,379.8 L611.0,380.0 L612.0,380.1 L613.0,380.3 L614.0,380.5 L615.0,380.6 L616.0,380.8 L617.0,381.0 L618.0,381.2 L619.0,381.4 L620.0,381.6 L621.0,381.8 L622.0,382.0 L623.0,382.2 L624.0,382.4 L625.0,382.6 L626.0,382.8 L627.0,383.0 L628.0,383.2 L629.0,383.4 L630.0,383.7 L631.0,383.9 L632.0,384.1 L633.0,384.3 L634.0,384.6 L635.0,384.8 L636.0,385.0 L637.0,385.3 L638.0,385.5 L639.0,385.7 L640.0,386.0 L641.0,386.2 L642.0,386.5 L643.0,386.7 L644.0,386.9 L645.0,387.2 L646.0,387.4 L647.0,387.7 L648.0,387.9 L649.0,388.1 L650.0,388.4 L651.0,388.6 L652.0,388.9 L653.0,389.1 L654.0,389.3 L655.0,389.6 L656.0,389.8 L657.0,390.0 L658.0,390.3 L659.0,390.5 L660.0,390.7 L661.0,391.0 L662.0,391.2 L663.0,391.4 L664.0,391.6 L665.0,391.9 L666.0,392.1 L667.0,392.3 L668.0,392.5 L669.0,392.7 L670.0,392.9 L671.0,393.1 L672.0,393.3 L673.0,393.6 L674.0,393.8 L675.0,394.0 L676.0,394.2 L677.0,394.4 L678.0,394.6 L679.0,394.8 L680.0,395.0 L681.0,395.1 L682.0,395.3 L683.0,395.5 L684.0,395.7 L685.0,395.9 L686.0,396.1 L687.0,396.3 L688.0,396.5 L689.0,396.7 L690.0,396.8 L691.0,397.0 L692.0,397.2 L693.0,397.4 L694.0,397.6 L695.0,397.7 L696.0,397.9 L697.0,398.1 L698.0,398.3 L699.0,398.4 L700.0,398.6 L701.0,398.8 L702.0,398.9 L703.0,399.1 L704.0,399.3 L705.0,399.4 L706.0,399.6 L707.0,399.8 L708.0,399.9 L709.0,400.1 L710.0,400.3 L711.0,400.4 L712.0,400.6 L713.0,400.8 L714.0,400.9 L715.0,401.1 L716.0,401.3 L717.0,401.4 L718.0,401.6 L719.0,401.7 L720.0,401.9 L721.0,402.1 L722.0,402.2 L723.0,402.4 L724.0,402.5 L725.0,402.7 L726.0,402.9 L727.0,403.0 L728.0,403.2 L728.7,403.3" fill="none" stroke="#7a2c8e" stroke-width="3.2" stroke-linejoin="round" stroke-linecap="butt"/>
<path d="M150.0,57.4 L151.0,69.3 L152.0,80.2 L153.0,89.5 L154.0,97.1 L155.0,103.9 L156.0,110.7 L157.0,118.1 L158.0,125.9 L159.0,133.8 L160.0,141.2 L161.0,148.2 L162.0,154.8 L163.0,161.1 L164.0,166.9 L165.0,172.4 L166.0,177.5 L167.0,182.3 L168.0,186.8 L169.0,191.1 L170.0,195.2 L171.0,199.2 L172.0,203.0 L173.0,206.5 L174.0,209.4 L175.0,211.3 L176.0,211.9 L177.0,211.2 L178.0,209.5 L179.0,206.9 L180.0,203.7 L181.0,200.1 L182.0,196.3 L183.0,192.4 L184.0,188.5 L185.0,184.7 L186.0,180.9 L187.0,177.3 L188.0,173.9 L189.0,170.5 L190.0,167.3 L191.0,163.9 L192.0,160.5 L193.0,156.9 L194.0,153.1 L195.0,149.2 L196.0,145.2 L197.0,141.2 L198.0,137.4 L199.0,133.7 L200.0,130.1 L201.0,126.7 L202.0,123.3 L203.0,120.0 L204.0,116.8 L205.0,113.5 L206.0,110.3 L207.0,107.2 L208.0,104.1 L209.0,101.2 L210.0,98.3 L211.0,95.6 L212.0,93.0 L213.0,90.5 L214.0,88.2 L215.0,85.9 L216.0,83.7 L217.0,81.7 L218.0,79.7 L219.0,77.8 L220.0,76.0 L221.0,74.4 L222.0,72.8 L223.0,71.4 L224.0,70.0 L225.0,68.7 L226.0,67.5 L227.0,66.3 L228.0,65.2 L229.0,64.1 L230.0,63.0 L231.0,62.0 L232.0,61.0 L233.0,60.0 L234.0,59.1 L235.0,58.2 L236.0,57.3 L237.0,56.5 L238.0,55.8 L239.0,55.1 L240.0,54.5 L241.0,54.0 L242.0,53.5 L243.0,53.1 L244.0,52.7 L245.0,52.3 L246.0,52.0 L247.0,51.7 L248.0,51.5 L249.0,51.3 L250.0,51.1 L251.0,50.9 L252.0,50.7 L253.0,50.6 L254.0,50.5 L255.0,50.4 L256.0,50.3 L257.0,50.3 L258.0,50.4 L259.0,50.6 L260.0,50.9 L261.0,51.4 L262.0,52.0 L263.0,52.8 L264.0,53.8 L265.0,54.9 L266.0,56.0 L267.0,57.3 L268.0,58.5 L269.0,59.7 L270.0,60.9 L271.0,62.1 L272.0,63.3 L273.0,64.5 L274.0,65.8 L275.0,67.1 L276.0,68.5 L277.0,69.9 L278.0,71.4 L279.0,73.0 L280.0,74.7 L281.0,76.4 L282.0,78.1 L283.0,79.8 L284.0,81.5 L285.0,83.1 L286.0,84.6 L287.0,86.2 L288.0,87.8 L289.0,89.4 L290.0,91.1 L291.0,92.9 L292.0,94.8 L293.0,96.9 L294.0,99.1 L295.0,101.4 L296.0,103.7 L297.0,106.0 L298.0,108.2 L299.0,110.4 L300.0,112.6 L301.0,114.6 L302.0,116.5 L303.0,118.4 L304.0,120.1 L305.0,121.7 L306.0,123.3 L307.0,124.7 L308.0,126.1 L309.0,127.4 L310.0,128.7 L311.0,130.0 L312.0,131.3 L313.0,132.5 L314.0,133.7 L315.0,134.9 L316.0,136.0 L317.0,137.1 L318.0,138.2 L319.0,139.2 L320.0,140.1 L321.0,141.0 L322.0,141.9 L323.0,142.7 L324.0,143.4 L325.0,144.1 L326.0,144.8 L327.0,145.5 L328.0,146.1 L329.0,146.8 L330.0,147.4 L331.0,148.0 L332.0,148.6 L333.0,149.2 L334.0,149.8 L335.0,150.4 L336.0,151.0 L337.0,151.6 L338.0,152.2 L339.0,152.9 L340.0,153.5 L341.0,154.2 L342.0,154.8 L343.0,155.5 L344.0,156.2 L345.0,156.9 L346.0,157.7 L347.0,158.4 L348.0,159.2 L349.0,160.0 L350.0,160.8 L351.0,161.6 L352.0,162.4 L353.0,163.3 L354.0,164.2 L355.0,165.1 L356.0,166.1 L357.0,167.0 L358.0,168.0 L359.0,169.0 L360.0,170.0 L361.0,171.1 L362.0,172.2 L363.0,173.2 L364.0,174.3 L365.0,175.4 L366.0,176.5 L367.0,177.6 L368.0,178.7 L369.0,179.7 L370.0,180.8 L371.0,181.8 L372.0,182.9 L373.0,183.9 L374.0,184.9 L375.0,186.0 L376.0,187.0 L377.0,188.1 L378.0,189.1 L379.0,190.2 L380.0,191.3 L381.0,192.4 L382.0,193.5 L383.0,194.6 L384.0,195.7 L385.0,196.9 L386.0,198.0 L387.0,199.2 L388.0,200.4 L389.0,201.6 L390.0,202.8 L391.0,204.0 L392.0,205.3 L393.0,206.5 L394.0,207.8 L395.0,209.1 L396.0,210.4 L397.0,211.7 L398.0,213.0 L399.0,214.3 L400.0,215.7 L401.0,217.1 L402.0,218.5 L403.0,219.8 L404.0,221.2 L405.0,222.7 L406.0,224.1 L407.0,225.5 L408.0,226.9 L409.0,228.3 L410.0,229.8 L411.0,231.2 L412.0,232.6 L413.0,234.0 L414.0,235.4 L415.0,236.8 L416.0,238.2 L417.0,239.6 L418.0,241.0 L419.0,242.3 L420.0,243.7 L421.0,245.0 L422.0,246.3 L423.0,247.6 L424.0,248.9 L425.0,250.2 L426.0,251.5 L427.0,252.7 L428.0,254.0 L429.0,255.2 L430.0,256.5 L431.0,257.7 L432.0,258.9 L433.0,260.1 L434.0,261.3 L435.0,262.5 L436.0,263.7 L437.0,264.9 L438.0,266.1 L439.0,267.2 L440.0,268.4 L441.0,269.6 L442.0,270.7 L443.0,271.9 L444.0,273.0 L445.0,274.1 L446.0,275.3 L447.0,276.4 L448.0,277.5 L449.0,278.6 L450.0,279.7 L451.0,280.8 L452.0,281.8 L453.0,282.9 L454.0,284.0 L455.0,285.0 L456.0,286.0 L457.0,287.0 L458.0,288.0 L459.0,289.0 L460.0,290.0 L461.0,291.0 L462.0,291.9 L463.0,292.8 L464.0,293.8 L465.0,294.7 L466.0,295.5 L467.0,296.4 L468.0,297.3 L469.0,298.1 L470.0,299.0 L471.0,299.8 L472.0,300.6 L473.0,301.4 L474.0,302.2 L475.0,303.0 L476.0,303.8 L477.0,304.5 L478.0,305.3 L479.0,306.0 L480.0,306.8 L481.0,307.5 L482.0,308.2 L483.0,308.9 L484.0,309.6 L485.0,310.3 L486.0,311.0 L487.0,311.6 L488.0,312.3 L489.0,312.9 L490.0,313.6 L491.0,314.2 L492.0,314.9 L493.0,315.5 L494.0,316.1 L495.0,316.7 L496.0,317.3 L497.0,317.9 L498.0,318.5 L499.0,319.0 L500.0,319.6 L501.0,320.1 L502.0,320.7 L503.0,321.2 L504.0,321.8 L505.0,322.3 L506.0,322.8 L507.0,323.3 L508.0,323.8 L509.0,324.3 L510.0,324.8 L511.0,325.3 L512.0,325.8 L513.0,326.2 L514.0,326.7 L515.0,327.1 L516.0,327.6 L517.0,328.0 L518.0,328.4 L519.0,328.9 L520.0,329.3 L521.0,329.7 L522.0,330.1 L523.0,330.5 L524.0,330.9 L525.0,331.3 L526.0,331.7 L527.0,332.0 L528.0,332.4 L529.0,332.7 L530.0,333.1 L531.0,333.4 L532.0,333.8 L533.0,334.1 L534.0,334.5 L535.0,334.8 L536.0,335.1 L537.0,335.4 L538.0,335.7 L539.0,336.0 L540.0,336.3 L541.0,336.6 L542.0,336.9 L543.0,337.2 L544.0,337.5 L545.0,337.8 L546.0,338.1 L547.0,338.4 L548.0,338.6 L549.0,338.9 L550.0,339.2 L551.0,339.5 L552.0,339.7 L553.0,340.0 L554.0,340.3 L555.0,340.5 L556.0,340.8 L557.0,341.0 L558.0,341.3 L559.0,341.6 L560.0,341.8 L561.0,342.1 L562.0,342.3 L563.0,342.6 L564.0,342.8 L565.0,343.1 L566.0,343.4 L567.0,343.6 L568.0,343.9 L569.0,344.1 L570.0,344.4 L571.0,344.7 L572.0,344.9 L573.0,345.2 L574.0,345.5 L575.0,345.7 L576.0,346.0 L577.0,346.3 L578.0,346.5 L579.0,346.8 L580.0,347.1 L581.0,347.3 L582.0,347.6 L583.0,347.9 L584.0,348.2 L585.0,348.4 L586.0,348.7 L587.0,349.0 L588.0,349.3 L589.0,349.6 L590.0,349.8 L591.0,350.1 L592.0,350.4 L593.0,350.7 L594.0,351.0 L595.0,351.2 L596.0,351.5 L597.0,351.8 L598.0,352.1 L599.0,352.4 L600.0,352.6 L601.0,352.9 L602.0,353.2 L603.0,353.5 L604.0,353.8 L605.0,354.0 L606.0,354.3 L607.0,354.6 L608.0,354.9 L609.0,355.2 L610.0,355.4 L611.0,355.7 L612.0,356.0 L613.0,356.3 L614.0,356.5 L615.0,356.8 L616.0,357.1 L617.0,357.4 L618.0,357.6 L619.0,357.9 L620.0,358.2 L621.0,358.5 L622.0,358.7 L623.0,359.0 L624.0,359.3 L625.0,359.5 L626.0,359.8 L627.0,360.1 L628.0,360.3 L629.0,360.6 L630.0,360.9 L631.0,361.1 L632.0,361.4 L633.0,361.6 L634.0,361.9 L635.0,362.1 L636.0,362.4 L637.0,362.7 L638.0,362.9 L639.0,363.2 L640.0,363.4 L641.0,363.7 L642.0,363.9 L643.0,364.1 L644.0,364.4 L645.0,364.6 L646.0,364.9 L647.0,365.1 L648.0,365.3 L649.0,365.6 L650.0,365.8 L651.0,366.0 L652.0,366.3 L653.0,366.5 L654.0,366.7 L655.0,367.0 L656.0,367.2 L657.0,367.4 L658.0,367.6 L659.0,367.8 L660.0,368.1 L661.0,368.3 L662.0,368.5 L663.0,368.7 L664.0,368.9 L665.0,369.1 L666.0,369.3 L667.0,369.5 L668.0,369.7 L669.0,369.9 L670.0,370.1 L671.0,370.3 L672.0,370.5 L673.0,370.7 L674.0,370.9 L675.0,371.0 L676.0,371.2 L677.0,371.4 L678.0,371.6 L679.0,371.8 L680.0,372.0 L681.0,372.1 L682.0,372.3 L683.0,372.5 L684.0,372.7 L685.0,372.8 L686.0,373.0 L687.0,373.2 L688.0,373.3 L689.0,373.5 L690.0,373.7 L691.0,373.8 L692.0,374.0 L693.0,374.2 L694.0,374.3 L695.0,374.5 L696.0,374.6 L697.0,374.8 L698.0,375.0 L699.0,375.1 L700.0,375.3 L701.0,375.4 L702.0,375.6 L703.0,375.7 L704.0,375.9 L705.0,376.0 L706.0,376.2 L707.0,376.3 L708.0,376.5 L709.0,376.6 L710.0,376.8 L711.0,376.9 L712.0,377.1 L713.0,377.2 L714.0,377.4 L715.0,377.5 L716.0,377.7 L717.0,377.8 L718.0,378.0 L719.0,378.1 L720.0,378.3 L721.0,378.4 L722.0,378.5 L723.0,378.7 L724.0,378.8 L725.0,379.0 L726.0,379.1 L727.0,379.3 L728.0,379.4 L728.7,379.5" fill="none" stroke="#3c8734" stroke-width="3.2" stroke-linejoin="round" stroke-linecap="butt"/>
<path d="M150.0,56.0 L151.0,70.9 L152.0,83.8 L153.0,93.5 L154.0,101.0 L155.0,107.7 L156.0,115.0 L157.0,123.1 L158.0,131.3 L159.0,139.3 L160.0,146.7 L161.0,153.7 L162.0,160.2 L163.0,166.1 L164.0,171.7 L165.0,176.8 L166.0,181.8 L167.0,186.5 L168.0,191.0 L169.0,195.3 L170.0,199.3 L171.0,203.0 L172.0,206.2 L173.0,208.7 L174.0,210.1 L175.0,210.2 L176.0,209.2 L177.0,207.3 L178.0,204.6 L179.0,201.3 L180.0,197.8 L181.0,194.2 L182.0,190.5 L183.0,186.8 L184.0,183.2 L185.0,179.7 L186.0,176.5 L187.0,173.3 L188.0,170.0 L189.0,166.6 L190.0,162.7 L191.0,158.3 L192.0,153.3 L193.0,147.9 L194.0,142.5 L195.0,137.6 L196.0,133.2 L197.0,129.4 L198.0,126.0 L199.0,122.8 L200.0,119.8 L201.0,116.7 L202.0,113.5 L203.0,110.3 L204.0,107.0 L205.0,103.8 L206.0,100.6 L207.0,97.7 L208.0,94.9 L209.0,92.3 L210.0,89.8 L211.0,87.5 L212.0,85.2 L213.0,83.0 L214.0,80.9 L215.0,78.9 L216.0,77.0 L217.0,75.2 L218.0,73.6 L219.0,72.0 L220.0,70.6 L221.0,69.2 L222.0,67.9 L223.0,66.6 L224.0,65.4 L225.0,64.1 L226.0,63.0 L227.0,61.8 L228.0,60.6 L229.0,59.5 L230.0,58.4 L231.0,57.4 L232.0,56.4 L233.0,55.5 L234.0,54.7 L235.0,54.0 L236.0,53.3 L237.0,52.7 L238.0,52.2 L239.0,51.6 L240.0,51.1 L241.0,50.7 L242.0,50.3 L243.0,49.9 L244.0,49.5 L245.0,49.2 L246.0,48.9 L247.0,48.7 L248.0,48.5 L249.0,48.4 L250.0,48.3 L251.0,48.3 L252.0,48.3 L253.0,48.4 L254.0,48.5 L255.0,48.7 L256.0,48.9 L257.0,49.2 L258.0,49.5 L259.0,49.9 L260.0,50.4 L261.0,50.9 L262.0,51.5 L263.0,52.2 L264.0,53.0 L265.0,53.8 L266.0,54.7 L267.0,55.7 L268.0,56.7 L269.0,57.7 L270.0,58.8 L271.0,59.9 L272.0,61.1 L273.0,62.3 L274.0,63.6 L275.0,64.9 L276.0,66.2 L277.0,67.6 L278.0,69.0 L279.0,70.5 L280.0,72.0 L281.0,73.5 L282.0,75.0 L283.0,76.5 L284.0,78.0 L285.0,79.4 L286.0,80.9 L287.0,82.4 L288.0,84.0 L289.0,85.7 L290.0,87.6 L291.0,89.6 L292.0,91.9 L293.0,94.1 L294.0,96.4 L295.0,98.5 L296.0,100.4 L297.0,102.1 L298.0,103.6 L299.0,104.8 L300.0,106.0 L301.0,107.0 L302.0,107.9 L303.0,108.8 L304.0,109.7 L305.0,110.7 L306.0,111.6 L307.0,112.5 L308.0,113.4 L309.0,114.3 L310.0,115.2 L311.0,116.0 L312.0,116.8 L313.0,117.6 L314.0,118.3 L315.0,119.0 L316.0,119.7 L317.0,120.3 L318.0,121.0 L319.0,121.6 L320.0,122.2 L321.0,122.8 L322.0,123.4 L323.0,123.9 L324.0,124.5 L325.0,125.0 L326.0,125.5 L327.0,126.0 L328.0,126.5 L329.0,126.9 L330.0,127.4 L331.0,127.8 L332.0,128.2 L333.0,128.7 L334.0,129.1 L335.0,129.6 L336.0,130.1 L337.0,130.6 L338.0,131.1 L339.0,131.7 L340.0,132.3 L341.0,132.8 L342.0,133.4 L343.0,134.0 L344.0,134.6 L345.0,135.2 L346.0,135.8 L347.0,136.4 L348.0,137.1 L349.0,137.8 L350.0,138.5 L351.0,139.2 L352.0,140.0 L353.0,140.8 L354.0,141.7 L355.0,142.6 L356.0,143.5 L357.0,144.5 L358.0,145.5 L359.0,146.5 L360.0,147.6 L361.0,148.7 L362.0,149.8 L363.0,150.9 L364.0,152.0 L365.0,153.1 L366.0,154.2 L367.0,155.2 L368.0,156.2 L369.0,157.1 L370.0,158.0 L371.0,158.8 L372.0,159.6 L373.0,160.4 L374.0,161.2 L375.0,161.9 L376.0,162.6 L377.0,163.4 L378.0,164.1 L379.0,164.8 L380.0,165.6 L381.0,166.3 L382.0,167.1 L383.0,167.9 L384.0,168.7 L385.0,169.5 L386.0,170.3 L387.0,171.2 L388.0,172.1 L389.0,173.0 L390.0,173.9 L391.0,174.8 L392.0,175.8 L393.0,176.8 L394.0,177.9 L395.0,178.9 L396.0,180.0 L397.0,181.2 L398.0,182.3 L399.0,183.5 L400.0,184.7 L401.0,186.0 L402.0,187.3 L403.0,188.6 L404.0,189.9 L405.0,191.3 L406.0,192.7 L407.0,194.1 L408.0,195.6 L409.0,197.1 L410.0,198.6 L411.0,200.2 L412.0,201.7 L413.0,203.3 L414.0,204.9 L415.0,206.5 L416.0,208.1 L417.0,209.7 L418.0,211.3 L419.0,212.9 L420.0,214.5 L421.0,216.1 L422.0,217.7 L423.0,219.3 L424.0,220.8 L425.0,222.4 L426.0,223.9 L427.0,225.4 L428.0,226.9 L429.0,228.4 L430.0,229.8 L431.0,231.2 L432.0,232.6 L433.0,234.0 L434.0,235.4 L435.0,236.7 L436.0,238.0 L437.0,239.3 L438.0,240.6 L439.0,241.8 L440.0,243.0 L441.0,244.2 L442.0,245.3 L443.0,246.4 L444.0,247.5 L445.0,248.6 L446.0,249.6 L447.0,250.6 L448.0,251.6 L449.0,252.6 L450.0,253.5 L451.0,254.5 L452.0,255.4 L453.0,256.3 L454.0,257.1 L455.0,258.0 L456.0,258.9 L457.0,259.7 L458.0,260.5 L459.0,261.3 L460.0,262.1 L461.0,262.9 L462.0,263.7 L463.0,264.4 L464.0,265.2 L465.0,266.0 L466.0,266.7 L467.0,267.5 L468.0,268.2 L469.0,269.0 L470.0,269.7 L471.0,270.5 L472.0,271.2 L473.0,271.9 L474.0,272.7 L475.0,273.4 L476.0,274.2 L477.0,275.0 L478.0,275.7 L479.0,276.5 L480.0,277.2 L481.0,278.0 L482.0,278.7 L483.0,279.5 L484.0,280.3 L485.0,281.0 L486.0,281.8 L487.0,282.5 L488.0,283.3 L489.0,284.0 L490.0,284.8 L491.0,285.5 L492.0,286.2 L493.0,287.0 L494.0,287.7 L495.0,288.5 L496.0,289.2 L497.0,289.9 L498.0,290.6 L499.0,291.4 L500.0,292.1 L501.0,292.8 L502.0,293.5 L503.0,294.2 L504.0,294.9 L505.0,295.6 L506.0,296.3 L507.0,296.9 L508.0,297.6 L509.0,298.3 L510.0,298.9 L511.0,299.6 L512.0,300.2 L513.0,300.8 L514.0,301.5 L515.0,302.1 L516.0,302.7 L517.0,303.3 L518.0,303.9 L519.0,304.5 L520.0,305.1 L521.0,305.7 L522.0,306.3 L523.0,306.8 L524.0,307.4 L525.0,307.9 L526.0,308.5 L527.0,309.0 L528.0,309.5 L529.0,310.0 L530.0,310.5 L531.0,311.0 L532.0,311.5 L533.0,312.0 L534.0,312.5 L535.0,313.0 L536.0,313.4 L537.0,313.9 L538.0,314.3 L539.0,314.8 L540.0,315.2 L541.0,315.6 L542.0,316.0 L543.0,316.4 L544.0,316.8 L545.0,317.2 L546.0,317.6 L547.0,317.9 L548.0,318.3 L549.0,318.6 L550.0,319.0 L551.0,319.3 L552.0,319.6 L553.0,320.0 L554.0,320.3 L555.0,320.6 L556.0,320.9 L557.0,321.2 L558.0,321.5 L559.0,321.8 L560.0,322.1 L561.0,322.4 L562.0,322.7 L563.0,323.0 L564.0,323.3 L565.0,323.6 L566.0,323.8 L567.0,324.1 L568.0,324.4 L569.0,324.7 L570.0,325.0 L571.0,325.3 L572.0,325.6 L573.0,325.9 L574.0,326.2 L575.0,326.5 L576.0,326.8 L577.0,327.1 L578.0,327.4 L579.0,327.7 L580.0,328.0 L581.0,328.3 L582.0,328.6 L583.0,328.9 L584.0,329.2 L585.0,329.5 L586.0,329.8 L587.0,330.1 L588.0,330.4 L589.0,330.7 L590.0,331.0 L591.0,331.3 L592.0,331.6 L593.0,331.9 L594.0,332.3 L595.0,332.6 L596.0,332.9 L597.0,333.2 L598.0,333.5 L599.0,333.8 L600.0,334.1 L601.0,334.4 L602.0,334.7 L603.0,335.0 L604.0,335.3 L605.0,335.6 L606.0,335.9 L607.0,336.2 L608.0,336.5 L609.0,336.8 L610.0,337.1 L611.0,337.4 L612.0,337.7 L613.0,338.0 L614.0,338.3 L615.0,338.6 L616.0,338.9 L617.0,339.2 L618.0,339.5 L619.0,339.8 L620.0,340.1 L621.0,340.3 L622.0,340.6 L623.0,340.9 L624.0,341.2 L625.0,341.5 L626.0,341.7 L627.0,342.0 L628.0,342.3 L629.0,342.6 L630.0,342.9 L631.0,343.1 L632.0,343.4 L633.0,343.7 L634.0,343.9 L635.0,344.2 L636.0,344.5 L637.0,344.8 L638.0,345.0 L639.0,345.3 L640.0,345.6 L641.0,345.8 L642.0,346.1 L643.0,346.4 L644.0,346.7 L645.0,346.9 L646.0,347.2 L647.0,347.5 L648.0,347.7 L649.0,348.0 L650.0,348.3 L651.0,348.5 L652.0,348.8 L653.0,349.1 L654.0,349.4 L655.0,349.6 L656.0,349.9 L657.0,350.2 L658.0,350.5 L659.0,350.7 L660.0,351.0 L661.0,351.3 L662.0,351.6 L663.0,351.8 L664.0,352.1 L665.0,352.4 L666.0,352.7 L667.0,353.0 L668.0,353.2 L669.0,353.5 L670.0,353.8 L671.0,354.1 L672.0,354.3 L673.0,354.6 L674.0,354.9 L675.0,355.2 L676.0,355.5 L677.0,355.7 L678.0,356.0 L679.0,356.3 L680.0,356.5 L681.0,356.8 L682.0,357.1 L683.0,357.4 L684.0,357.6 L685.0,357.9 L686.0,358.1 L687.0,358.4 L688.0,358.7 L689.0,358.9 L690.0,359.2 L691.0,359.4 L692.0,359.7 L693.0,359.9 L694.0,360.1 L695.0,360.4 L696.0,360.6 L697.0,360.8 L698.0,361.1 L699.0,361.3 L700.0,361.5 L701.0,361.7 L702.0,361.9 L703.0,362.2 L704.0,362.4 L705.0,362.6 L706.0,362.8 L707.0,363.0 L708.0,363.2 L709.0,363.4 L710.0,363.6 L711.0,363.8 L712.0,364.0 L713.0,364.2 L714.0,364.4 L715.0,364.6 L716.0,364.8 L717.0,364.9 L718.0,365.1 L719.0,365.3 L720.0,365.5 L721.0,365.7 L722.0,365.9 L723.0,366.1 L724.0,366.2 L725.0,366.4 L726.0,366.6 L727.0,366.8 L728.0,367.0 L728.7,367.1" fill="none" stroke="#b8121e" stroke-width="3.2" stroke-linejoin="round" stroke-linecap="butt"/>
<line x1="547" y1="63.0" x2="571" y2="63.0" stroke="#1b4f6e" stroke-width="3"/>
<text x="572" y="70.2" style="font-family:'Liberation Sans',sans-serif;font-weight:bold;fill:#111;font-size:21.6px">0 h</text>
<line x1="547" y1="86.4" x2="571" y2="86.4" stroke="#f2c12e" stroke-width="3"/>
<text x="572" y="93.6" style="font-family:'Liberation Sans',sans-serif;font-weight:bold;fill:#111;font-size:21.6px">24 h</text>
<line x1="547" y1="109.9" x2="571" y2="109.9" stroke="#1e5e33" stroke-width="3"/>
<text x="572" y="117.1" style="font-family:'Liberation Sans',sans-serif;font-weight:bold;fill:#111;font-size:21.6px">48 h</text>
<line x1="547" y1="133.3" x2="571" y2="133.3" stroke="#2a8fc0" stroke-width="3"/>
<text x="572" y="140.5" style="font-family:'Liberation Sans',sans-serif;font-weight:bold;fill:#111;font-size:21.6px">1 week</text>
<line x1="547" y1="156.7" x2="571" y2="156.7" stroke="#7a2c8e" stroke-width="3"/>
<text x="572" y="163.9" style="font-family:'Liberation Sans',sans-serif;font-weight:bold;fill:#111;font-size:21.6px">2 week</text>
<line x1="547" y1="180.2" x2="571" y2="180.2" stroke="#3c8734" stroke-width="3"/>
<text x="572" y="187.3" style="font-family:'Liberation Sans',sans-serif;font-weight:bold;fill:#111;font-size:21.6px">3 week</text>
<line x1="547" y1="203.6" x2="571" y2="203.6" stroke="#b8121e" stroke-width="3"/>
<text x="572" y="210.8" style="font-family:'Liberation Sans',sans-serif;font-weight:bold;fill:#111;font-size:21.6px">4 week</text>
<path d="M142.5,556.6 V941 M142.5,933.6 H744 V941" fill="none" stroke="#1a1a1a" stroke-width="3"/>
<line x1="135" y1="933.6" x2="142.5" y2="933.6" stroke="#1a1a1a" stroke-width="3"/>
<text x="120" y="942.1" text-anchor="end" style="font-family:'Liberation Sans',sans-serif;font-weight:bold;fill:#111;font-size:24.6px">0</text>
<line x1="135" y1="886.5" x2="142.5" y2="886.5" stroke="#1a1a1a" stroke-width="3"/>
<text x="120" y="895.0" text-anchor="end" style="font-family:'Liberation Sans',sans-serif;font-weight:bold;fill:#111;font-size:24.6px">50</text>
<line x1="135" y1="839.4" x2="142.5" y2="839.4" stroke="#1a1a1a" stroke-width="3"/>
<text x="120" y="847.9" text-anchor="end" style="font-family:'Liberation Sans',sans-serif;font-weight:bold;fill:#111;font-size:24.6px">100</text>
<line x1="135" y1="792.2" x2="142.5" y2="792.2" stroke="#1a1a1a" stroke-width="3"/>
<text x="120" y="800.7" text-anchor="end" style="font-family:'Liberation Sans',sans-serif;font-weight:bold;fill:#111;font-size:24.6px">150</text>
<line x1="135" y1="745.1" x2="142.5" y2="745.1" stroke="#1a1a1a" stroke-width="3"/>
<text x="120" y="753.6" text-anchor="end" style="font-family:'Liberation Sans',sans-serif;font-weight:bold;fill:#111;font-size:24.6px">200</text>
<line x1="135" y1="698.0" x2="142.5" y2="698.0" stroke="#1a1a1a" stroke-width="3"/>
<text x="120" y="706.5" text-anchor="end" style="font-family:'Liberation Sans',sans-serif;font-weight:bold;fill:#111;font-size:24.6px">250</text>
<line x1="135" y1="650.9" x2="142.5" y2="650.9" stroke="#1a1a1a" stroke-width="3"/>
<text x="120" y="659.4" text-anchor="end" style="font-family:'Liberation Sans',sans-serif;font-weight:bold;fill:#111;font-size:24.6px">300</text>
<line x1="135" y1="603.7" x2="142.5" y2="603.7" stroke="#1a1a1a" stroke-width="3"/>
<text x="120" y="612.2" text-anchor="end" style="font-family:'Liberation Sans',sans-serif;font-weight:bold;fill:#111;font-size:24.6px">350</text>
<line x1="135" y1="556.6" x2="142.5" y2="556.6" stroke="#1a1a1a" stroke-width="3"/>
<text x="120" y="565.1" text-anchor="end" style="font-family:'Liberation Sans',sans-serif;font-weight:bold;fill:#111;font-size:24.6px">400</text>
<line x1="342.7" y1="933.6" x2="342.7" y2="941" stroke="#1a1a1a" stroke-width="3"/>
<line x1="543.3" y1="933.6" x2="543.3" y2="941" stroke="#1a1a1a" stroke-width="3"/>
<rect x="203" y="851.7" width="80.0" height="81.9" fill="#175f87"/>
<rect x="403" y="602.9" width="80.0" height="330.7" fill="#175f87"/>
<rect x="603.5" y="584.1" width="79.8" height="349.5" fill="#175f87"/>
<path d="M142.5,933.6 H744" fill="none" stroke="#1a1a1a" stroke-width="3"/>
<text transform="translate(4.3,569.2) scale(0.945,1)" x="0" y="0" style="font-family:'Liberation Sans',sans-serif;font-weight:bold;fill:#111;font-size:57.5px">B</text>
<text transform="translate(60,761.3) rotate(-90) scale(1.07,1)" text-anchor="middle" style="font-family:'Liberation Sans',sans-serif;font-weight:bold;fill:#111;font-size:24px" xml:space="preserve">Ag+ ion Concentration <tspan dx="3" style="font-weight:normal">μ</tspan>/mL</text>
<text x="242.3" y="972.5" text-anchor="middle" style="font-family:'Liberation Sans',sans-serif;font-weight:bold;fill:#111;font-size:25.8px">24 h</text>
<text x="442.5" y="972.5" text-anchor="middle" style="font-family:'Liberation Sans',sans-serif;font-weight:bold;fill:#111;font-size:25.8px">48 h</text>
<text x="644" y="972.5" text-anchor="middle" style="font-family:'Liberation Sans',sans-serif;font-weight:bold;fill:#111;font-size:25.8px">1 Week</text>
<text x="400" y="1018" style="font-family:'Liberation Sans',sans-serif;font-weight:bold;fill:#111;font-size:25px">Time</text>
</svg></div>
</body></html>
